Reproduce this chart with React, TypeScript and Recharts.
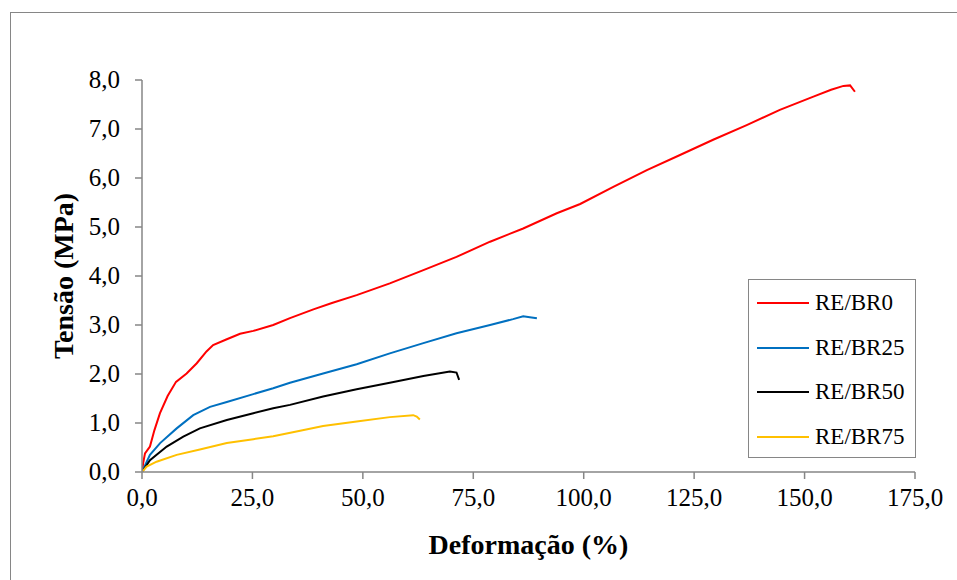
import React from 'react';
import { LineChart, Line, XAxis, YAxis, Legend, Label } from 'recharts';

const re0Strain = [0, 0.3, 0.68, 1.8, 2.8, 4.07, 5.8, 7.7, 10.1, 12.4, 14.6, 16.1, 19.2, 22.2, 25.2, 29.7, 33.5, 38.8, 43, 48.6, 56.1, 63.7, 71.2, 78.8, 86.3, 93.9, 99.2, 106.7, 114.3, 121.8, 129.3, 136.9, 144.4, 152.0, 156, 158.8, 160.3, 161.4];
const re0Stress = [0, 0.2, 0.38, 0.52, 0.85, 1.2, 1.55, 1.84, 2.01, 2.22, 2.46, 2.59, 2.71, 2.82, 2.88, 3.0, 3.14, 3.32, 3.45, 3.61, 3.85, 4.12, 4.39, 4.7, 4.97, 5.28, 5.47, 5.82, 6.16, 6.47, 6.78, 7.08, 7.39, 7.66, 7.8, 7.88, 7.89, 7.76];

const re25Strain = [0, 1.8, 4.1, 7.85, 11.6, 15.4, 19.2, 25.2, 29.7, 33.5, 41.0, 48.6, 56.1, 63.7, 71.2, 78.8, 84, 86.3, 87.8, 89.4];
const re25Stress = [0, 0.35, 0.59, 0.89, 1.16, 1.33, 1.43, 1.59, 1.71, 1.82, 2.01, 2.2, 2.42, 2.63, 2.83, 3.0, 3.12, 3.18, 3.16, 3.14];

const re50Strain = [0, 1.8, 5.6, 9.35, 13.1, 19.2, 25.2, 29.7, 33.5, 41.0, 48.6, 56.1, 63.7, 69.7, 71.2, 71.8];
const re50Stress = [0, 0.24, 0.52, 0.72, 0.89, 1.06, 1.2, 1.3, 1.37, 1.54, 1.69, 1.82, 1.96, 2.05, 2.03, 1.88];

const re75Strain = [0, 1.06, 3.3, 7.85, 13.1, 19.2, 25.2, 29.7, 35.8, 41.0, 48.6, 56.1, 61.4, 62.2, 62.9];
const re75Stress = [0, 0.11, 0.21, 0.35, 0.46, 0.59, 0.67, 0.73, 0.84, 0.94, 1.03, 1.12, 1.16, 1.13, 1.07];

const seriesNames = ['RE/BR0', 'RE/BR25', 'RE/BR50', 'RE/BR75'];
const seriesColors = ['#FF0000', '#0070C0', '#000000', '#FFC000'];

const xTicks = [0, 25, 50, 75, 100, 125, 150, 175];
const yTicks = [0, 1, 2, 3, 4, 5, 6, 7, 8];

const build = (xs: number[], ys: number[]) => xs.map((x, i) => ({ x, y: ys[i] }));
const allSeries = [
  build(re0Strain, re0Stress),
  build(re25Strain, re25Stress),
  build(re50Strain, re50Stress),
  build(re75Strain, re75Stress),
];

const FONT = 'Liberation Serif';
const AXIS = '#868686';
const fmt = (v: number) => v.toFixed(1).replace('.', ',');

const XTick = (p: any) => (
  <text x={p.x} y={p.y} dy={19} textAnchor="middle" fill="#000" fontSize={25} style={{ fontFamily: FONT }}>
    {fmt(p.payload.value)}
  </text>
);
const YTick = (p: any) => (
  <text x={p.x} y={p.y} dy={8} textAnchor="end" fill="#000" fontSize={25} style={{ fontFamily: FONT }}>
    {fmt(p.payload.value)}
  </text>
);

const LegendBox = (props: any) => {
  const payload = props.payload || [];
  return (
    <div style={{ position: 'absolute', left: 0, top: 0, width: 166, height: 177, border: `1px solid ${AXIS}`, background: '#fff', fontFamily: FONT }}>
      {payload.map((p: any, i: number) => (
        <div key={i} style={{ position: 'absolute', left: 8, top: 23 + i * 44.7 - 14, height: 28, display: 'flex', alignItems: 'center', whiteSpace: 'nowrap' }}>
          <div style={{ width: 52, height: 2, background: p.color }} />
          <span style={{ marginLeft: 6, fontSize: 23, color: '#000', lineHeight: '28px' }}>{p.value}</span>
        </div>
      ))}
    </div>
  );
};

export default function App() {
  return (
    <div style={{ position: 'absolute', left: 0, top: 0, width: 957, height: 580, overflow: 'hidden', background: '#fff', fontFamily: FONT }}>
      <div style={{ position: 'absolute', left: 10, top: 12, width: 1200, height: 1200, border: `1px solid ${AXIS}` }} />
      <div style={{ position: 'absolute', left: 0, top: 0 }}>
        <LineChart width={957} height={580} margin={{ top: 80, right: 42, bottom: 50, left: 10 }} style={{ fontFamily: FONT }}>
          <XAxis
            type="number"
            dataKey="x"
            domain={[0, 175]}
            ticks={xTicks}
            height={58}
            stroke={AXIS}
            strokeWidth={1.5}
            tickSize={7}
            tickMargin={8}
            tick={<XTick />}
            allowDataOverflow
          >
            <Label
              content={(p: any) => {
                const vb = p.viewBox;
                return (
                  <text x={vb.x + vb.width / 2} y={vb.y + 82} textAnchor="middle" fontWeight="bold" fontSize={28} fill="#000" style={{ fontFamily: FONT }}>
                    Deformação (%)
                  </text>
                );
              }}
            />
          </XAxis>
          <YAxis
            type="number"
            dataKey="y"
            domain={[0, 8]}
            ticks={yTicks}
            width={132}
            stroke={AXIS}
            strokeWidth={1.5}
            tickSize={7}
            tickMargin={15}
            tick={<YTick />}
            allowDataOverflow
          >
            <Label
              content={(p: any) => {
                const vb = p.viewBox;
                const cx = 73;
                const cy = vb.y + vb.height / 2;
                return (
                  <text x={cx} y={cy} textAnchor="middle" transform={`rotate(-90 ${cx} ${cy})`} fontWeight="bold" fontSize={28} fill="#000" style={{ fontFamily: FONT }}>
                    Tensão (MPa)
                  </text>
                );
              }}
            />
          </YAxis>
          <Legend
            content={<LegendBox />}
            wrapperStyle={{ position: 'absolute', left: 748, top: 279, width: 0, height: 0, overflow: 'visible' }}
          />
          {allSeries.map((d, i) => (
            <Line
              key={seriesNames[i]}
              data={d}
              dataKey="y"
              name={seriesNames[i]}
              stroke={seriesColors[i]}
              strokeWidth={2}
              dot={false}
              type="linear"
              isAnimationActive={false}
            />
          ))}
        </LineChart>
      </div>
    </div>
  );
}
